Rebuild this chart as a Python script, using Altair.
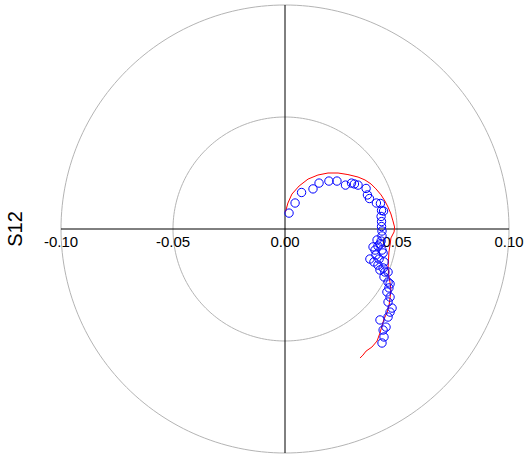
import altair as alt
import numpy as np
import pandas as pd

# S12 trace: model curve (red line)
model_re = [0.0002, 0.0013, 0.0031, 0.0063, 0.0103, 0.0147, 0.0192, 0.0237, 0.0281, 0.0326,
            0.0357, 0.0384, 0.0406, 0.0429, 0.0446, 0.0460, 0.0473, 0.0482, 0.0489, 0.0487,
            0.0473, 0.0469, 0.0464, 0.0462, 0.0460, 0.0464, 0.0469, 0.0473, 0.0469, 0.0464,
            0.0455, 0.0442, 0.0433, 0.0424, 0.0411, 0.0388, 0.0362, 0.0348, 0.0335]
model_im = [0.0076, 0.0116, 0.0156, 0.0192, 0.0223, 0.0241, 0.0250, 0.0250, 0.0243, 0.0232,
            0.0219, 0.0201, 0.0179, 0.0152, 0.0125, 0.0098, 0.0067, 0.0036, 0.0009, -0.0013,
            -0.0040, -0.0071, -0.0103, -0.0138, -0.0174, -0.0210, -0.0241, -0.0272, -0.0308, -0.0344,
            -0.0375, -0.0402, -0.0433, -0.0464, -0.0500, -0.0527, -0.0545, -0.0563, -0.0576]

# S12 measured samples (blue circles)
meas_re = [0.0018, 0.0045, 0.0074, 0.0125, 0.0152, 0.0196, 0.0232, 0.0270, 0.0297, 0.0310,
           0.0326, 0.0362, 0.0368, 0.0377, 0.0408, 0.0426, 0.0431, 0.0440, 0.0429, 0.0431,
           0.0431, 0.0433, 0.0433, 0.0429, 0.0411, 0.0424, 0.0415, 0.0393, 0.0402, 0.0433,
           0.0406, 0.0379, 0.0420, 0.0438, 0.0397, 0.0442, 0.0415, 0.0438, 0.0424, 0.0446,
           0.0460, 0.0442, 0.0460, 0.0469, 0.0464, 0.0455, 0.0469, 0.0460, 0.0478, 0.0469,
           0.0460, 0.0424, 0.0451, 0.0438, 0.0442, 0.0433]
meas_im = [0.0071, 0.0116, 0.0163, 0.0179, 0.0205, 0.0214, 0.0214, 0.0196, 0.0205, 0.0201,
           0.0196, 0.0181, 0.0152, 0.0136, 0.0116, 0.0114, 0.0083, 0.0080, 0.0056, 0.0033,
           0.0011, -0.0009, -0.0031, -0.0054, -0.0049, -0.0067, -0.0076, -0.0080, -0.0094, -0.0094,
           -0.0116, -0.0134, -0.0134, -0.0107, -0.0147, -0.0147, -0.0161, -0.0174, -0.0183, -0.0192,
           -0.0192, -0.0214, -0.0237, -0.0245, -0.0263, -0.0281, -0.0304, -0.0326, -0.0353, -0.0371,
           -0.0393, -0.0406, -0.0438, -0.0451, -0.0482, -0.0509]

# polar grid radii and tick labels on the real axis
grid_radii = [0.05, 0.10]
tick_values = [-0.10, -0.05, 0.00, 0.05, 0.10]
tick_labels = ["-0.10", "-0.05", "0.00", "0.05", "0.10"]

LIM = 0.1
xs = alt.Scale(domain=[-LIM, LIM], nice=False, zero=False)
ys = alt.Scale(domain=[-LIM, LIM], nice=False, zero=False)

theta = np.linspace(0, 2 * np.pi, 241)
grid_df = pd.concat([
    pd.DataFrame({"r": r, "i": np.arange(theta.size),
                  "x": r * np.cos(theta), "y": r * np.sin(theta)})
    for r in grid_radii
])
model_df = pd.DataFrame({"i": range(len(model_re)), "x": model_re, "y": model_im})
meas_df = pd.DataFrame({"x": meas_re, "y": meas_im})
axes_df = pd.DataFrame({"x": [-LIM, 0.0], "x2": [LIM, 0.0], "y": [0.0, -LIM], "y2": [0.0, LIM]})
tick_df = pd.DataFrame({"x": tick_values, "y": [0.0] * 5, "label": tick_labels})

grid = alt.Chart(grid_df).mark_line(color="#b4b4b4", strokeWidth=1).encode(
    x=alt.X("x:Q", scale=xs, axis=None),
    y=alt.Y("y:Q", scale=ys, axis=None),
    detail="r:N",
    order="i:Q",
)

axes = alt.Chart(axes_df).mark_rule(color="#000000", strokeWidth=1).encode(
    x=alt.X("x:Q", scale=xs, axis=None), x2="x2:Q",
    y=alt.Y("y:Q", scale=ys, axis=None), y2="y2:Q",
)

ticks = alt.Chart(tick_df).mark_text(
    font="Liberation Sans", fontSize=15, color="#000000",
    align="center", baseline="alphabetic", dy=18,
).encode(
    x=alt.X("x:Q", scale=xs, axis=None),
    y=alt.Y("y:Q", scale=ys, axis=None),
    text="label:N",
)

model = alt.Chart(model_df).mark_line(color="#ff0000", strokeWidth=1).encode(
    x=alt.X("x:Q", scale=xs, axis=None),
    y=alt.Y("y:Q", scale=ys, axis=None),
    order="i:Q",
)

meas = alt.Chart(meas_df).mark_point(
    shape="circle", filled=False, color="#0000ff", size=70, strokeWidth=1, opacity=1,
).encode(
    x=alt.X("x:Q", scale=xs, axis=None),
    y=alt.Y("y:Q", scale=ys, axis=None),
)

chart = alt.layer(grid, axes, ticks, model, meas).properties(
    width=448,
    height=448,
    autosize="none",
    padding={"left": 61, "top": 5, "right": 17, "bottom": 3},
    title=alt.TitleParams(
        "S12", orient="left", anchor="middle", fontSize=20,
        font="Liberation Sans", fontWeight="normal", color="#000000", offset=18,
    ),
).configure(
    background="white",
    view=alt.ViewConfig(stroke="transparent", strokeWidth=0),
)

chart.save("out.html", embed_options={"renderer": "svg", "actions": False})
